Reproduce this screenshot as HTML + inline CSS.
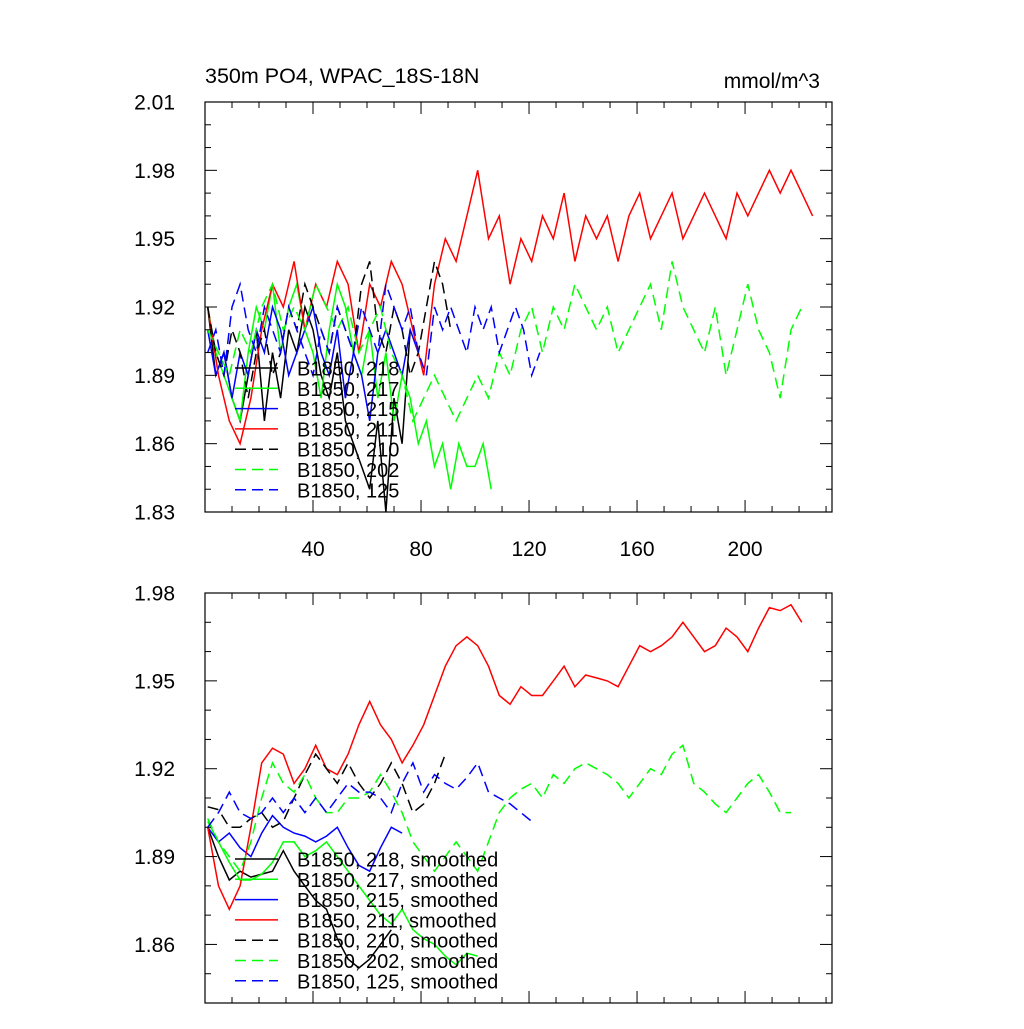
<!DOCTYPE html>
<html><head><meta charset="utf-8"><style>
body{margin:0;background:#fff}
svg{font-family:"Liberation Sans",sans-serif}
</style></head><body>
<svg id="c" width="1024" height="1024" viewBox="0 0 1024 1024">
<rect width="1024" height="1024" fill="#fff"/>
<text x="205" y="83" font-size="21.5">350m PO4, WPAC_18S-18N</text>
<text x="820" y="88" font-size="21" text-anchor="end">mmol/m^3</text>
</svg>
<script>
// ---- data ----
const xTicks=[40,80,120,160,200];
const topYTicks=["1.83","1.86","1.89","1.92","1.95","1.98","2.01"];
const botYTicks=["1.86","1.89","1.92","1.95","1.98"];
const legendTop=["B1850, 218","B1850, 217","B1850, 215","B1850, 211","B1850, 210","B1850, 202","B1850, 125"];
const legendBot=["B1850, 218, smoothed","B1850, 217, smoothed","B1850, 215, smoothed","B1850, 211, smoothed","B1850, 210, smoothed","B1850, 202, smoothed","B1850, 125, smoothed"];
// raw series (top), sampled every 3 or 4 years
const raw218=[1.92,1.89,1.90,1.88,1.87,1.89,1.91,1.87,1.90,1.88,1.91,1.90,1.92,1.91,1.89,1.88,1.90,1.87,1.86,1.85,1.84,1.87,1.83,1.88,1.86,1.91];
const raw217=[1.92,1.90,1.89,1.88,1.87,1.90,1.92,1.91,1.93,1.90,1.92,1.93,1.91,1.90,1.88,1.91,1.93,1.92,1.90,1.89,1.91,1.88,1.90,1.87,1.89,1.88,1.86,1.87,1.85,1.86,1.84,1.86,1.85,1.85,1.86,1.84];
const raw215=[1.91,1.89,1.90,1.88,1.90,1.89,1.91,1.90,1.92,1.91,1.89,1.90,1.91,1.92,1.90,1.89,1.91,1.88,1.90,1.89,1.87,1.90,1.91,1.90,1.89,1.91,1.90];
const raw211=[1.92,1.89,1.87,1.86,1.88,1.91,1.93,1.92,1.94,1.91,1.93,1.92,1.94,1.93,1.90,1.93,1.92,1.94,1.93,1.91,1.89,1.93,1.95,1.94,1.96,1.98,1.95,1.96,1.93,1.95,1.94,1.96,1.95,1.97,1.94,1.96,1.95,1.96,1.94,1.96,1.97,1.95,1.96,1.97,1.95,1.96,1.97,1.96,1.95,1.97,1.96,1.97,1.98,1.97,1.98,1.97,1.96];
const raw210=[1.92,1.90,1.89,1.91,1.90,1.88,1.90,1.91,1.89,1.90,1.92,1.91,1.93,1.92,1.91,1.90,1.92,1.91,1.90,1.93,1.94,1.91,1.90,1.92,1.91,1.89,1.90,1.92,1.94,1.93,1.91];
const raw202=[1.91,1.90,1.89,1.91,1.90,1.92,1.93,1.91,1.92,1.91,1.93,1.92,1.91,1.92,1.90,1.91,1.92,1.90,1.89,1.87,1.88,1.89,1.88,1.87,1.88,1.89,1.88,1.90,1.89,1.91,1.92,1.90,1.92,1.91,1.93,1.92,1.91,1.92,1.90,1.91,1.92,1.93,1.91,1.94,1.92,1.91,1.90,1.92,1.89,1.91,1.93,1.91,1.90,1.88,1.91,1.92];
const raw125=[1.90,1.91,1.89,1.92,1.93,1.91,1.90,1.92,1.91,1.90,1.92,1.91,1.90,1.89,1.91,1.90,1.92,1.91,1.90,1.92,1.91,1.90,1.93,1.92,1.91,1.92,1.90,1.89,1.92,1.91,1.92,1.91,1.90,1.92,1.91,1.92,1.90,1.91,1.92,1.91,1.89,1.90];
// smoothed series (bottom), sampled every 4 years
const sm218=[1.9,1.89,1.882,1.885,1.883,1.884,1.885,1.892,1.885,1.88,1.875,1.872,1.862,1.855,1.852,1.855,1.86,1.865];
const sm217=[1.902,1.895,1.888,1.882,1.882,1.884,1.888,1.895,1.895,1.89,1.892,1.895,1.89,1.885,1.88,1.875,1.87,1.867,1.872,1.865,1.862,1.86,1.856,1.853,1.857,1.856];
const sm215=[1.9,1.895,1.898,1.893,1.89,1.898,1.904,1.9,1.898,1.897,1.895,1.897,1.9,1.893,1.887,1.885,1.893,1.9,1.898];
const sm211=[1.90,1.88,1.872,1.88,1.90,1.922,1.927,1.925,1.915,1.92,1.928,1.92,1.918,1.925,1.935,1.943,1.935,1.93,1.922,1.928,1.935,1.945,1.955,1.962,1.965,1.962,1.955,1.945,1.942,1.948,1.945,1.945,1.95,1.955,1.948,1.952,1.951,1.95,1.948,1.955,1.962,1.96,1.962,1.965,1.97,1.965,1.96,1.962,1.968,1.965,1.96,1.968,1.975,1.974,1.976,1.97];
const sm210=[1.907,1.906,1.9,1.9,1.903,1.905,1.9,1.902,1.91,1.918,1.925,1.92,1.915,1.922,1.915,1.91,1.915,1.922,1.915,1.905,1.908,1.915,1.925];
const sm202=[1.903,1.895,1.89,1.885,1.895,1.91,1.922,1.915,1.912,1.918,1.91,1.905,1.905,1.91,1.91,1.912,1.918,1.912,1.905,1.895,1.89,1.885,1.89,1.895,1.89,1.885,1.895,1.905,1.91,1.913,1.915,1.91,1.918,1.915,1.92,1.922,1.92,1.918,1.915,1.91,1.915,1.92,1.918,1.925,1.928,1.915,1.912,1.908,1.905,1.91,1.915,1.918,1.912,1.905,1.905];
const sm125=[1.9,1.905,1.912,1.905,1.903,1.905,1.91,1.905,1.91,1.905,1.91,1.905,1.91,1.915,1.912,1.912,1.91,1.905,1.915,1.922,1.912,1.918,1.915,1.913,1.917,1.922,1.912,1.91,1.908,1.905,1.902];

const NS="http://www.w3.org/2000/svg";
const svg=document.getElementById('c');
const X0=205,X1=832,XMIN=0,XMAX=232.2;
function xs(v){return X0+(v-XMIN)/(XMAX-XMIN)*(X1-X0);}
function mk(tag,attrs,parent){const e=document.createElementNS(NS,tag);for(const k in attrs)e.setAttribute(k,attrs[k]);(parent||svg).appendChild(e);return e;}

function panel(top,bot,ymin,ymax,yt,showX,series,legend,legY,name){
  const ys=v=>bot-(v-ymin)/(ymax-ymin)*(bot-top);
  const g=mk('g',{});
  
  
  series.forEach(s=>{
    const pts=s.d.map((v,i)=>xs(1+i*s.step).toFixed(1)+','+ys(v).toFixed(1)).join(' ');
    const p=mk('polyline',{points:pts,fill:'none',stroke:s.c,'stroke-width':1.5,'stroke-dasharray':s.dash?'11 6':'none'},g);
    
    
  });
  mk('rect',{x:X0,y:top,width:X1-X0,height:bot-top,fill:'none',stroke:'#000','stroke-width':1.2},g);
  for(let v=ymin;v<=ymax+1e-9;v+=0.01){
    const y=ys(v);const major=Math.abs(Math.round(v*100)%3)===0;
    const L=major?12:6;
    mk('line',{x1:X0,x2:X0+L,y1:y,y2:y,stroke:'#000','stroke-width':1},g);
    mk('line',{x1:X1,x2:X1-L,y1:y,y2:y,stroke:'#000','stroke-width':1},g);
  }
  yt.forEach(t=>{
    const y=ys(parseFloat(t));
    const tx=mk('text',{x:175,y:y+7.5,'font-size':21,'text-anchor':'end'},g);
    tx.textContent=t;
    
    
  });
  for(let v=10;v<XMAX;v+=10){
    const x=xs(v);const major=v%40===0;const L=major?12:6;
    mk('line',{x1:x,x2:x,y1:bot,y2:bot-L,stroke:'#000','stroke-width':1},g);
    mk('line',{x1:x,x2:x,y1:top,y2:top+L,stroke:'#000','stroke-width':1},g);
  }
  if(showX) xTicks.forEach(v=>{
    const tx=mk('text',{x:xs(v),y:bot+44,'font-size':21,'text-anchor':'middle'},g);
    tx.textContent=v;
    
    
  });
  series.forEach((s,i)=>{
    const y=legY+i*20.3;
    const ln=mk('line',{x1:235,x2:278,y1:y,y2:y,stroke:s.c,'stroke-width':1.5,'stroke-dasharray':s.dash?'11 6':'none'},g);
    
    
    const tx=mk('text',{x:297,y:y+7.5,'font-size':20},g);
    tx.textContent=legend[i];
    
    
  });
}
panel(102,512,1.83,2.01,topYTicks,true,[
 {n:'218',d:raw218,step:3,c:'#000',dash:false},
 {n:'217',d:raw217,step:3,c:'#00ff00',dash:false},
 {n:'215',d:raw215,step:3,c:'#0000ff',dash:false},
 {n:'211',d:raw211,step:4,c:'#ff0000',dash:false},
 {n:'210',d:raw210,step:3,c:'#000',dash:true},
 {n:'202',d:raw202,step:4,c:'#00ff00',dash:true},
 {n:'125',d:raw125,step:3,c:'#0000ff',dash:true}],legendTop,368,'top-panel');
panel(593,1003,1.84,1.98,botYTicks,false,[
 {n:'218-smoothed',d:sm218,step:4,c:'#000',dash:false},
 {n:'217-smoothed',d:sm217,step:4,c:'#00ff00',dash:false},
 {n:'215-smoothed',d:sm215,step:4,c:'#0000ff',dash:false},
 {n:'211-smoothed',d:sm211,step:4,c:'#ff0000',dash:false},
 {n:'210-smoothed',d:sm210,step:4,c:'#000',dash:true},
 {n:'202-smoothed',d:sm202,step:4,c:'#00ff00',dash:true},
 {n:'125-smoothed',d:sm125,step:4,c:'#0000ff',dash:true}],legendBot,859,'bottom-panel');
</script>
</body></html>
